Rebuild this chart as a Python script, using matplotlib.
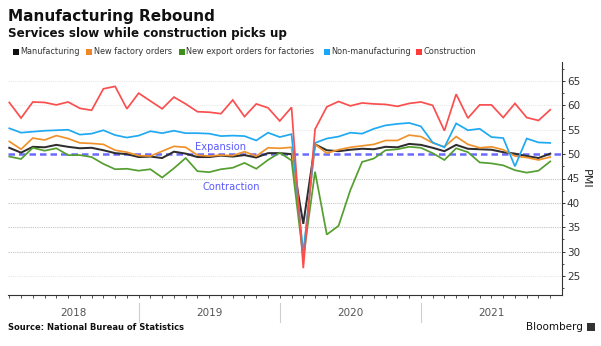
import matplotlib
matplotlib.use("Agg")
import matplotlib.pyplot as plt
import matplotlib.transforms as mtransforms
from matplotlib.patches import Rectangle
from matplotlib.lines import Line2D
import numpy as np

# Monthly PMI readings, Jan 2018 - Nov 2021
years = ["2018", "2019", "2020", "2021"]

manufacturing = [51.3, 50.3, 51.5, 51.4, 51.9, 51.5, 51.2, 51.3, 50.8, 50.2, 50.0, 49.4,
                 49.5, 49.2, 50.5, 50.1, 49.4, 49.4, 49.7, 49.5, 49.8, 49.3, 50.2, 50.2,
                 50.0, 35.7, 52.0, 50.8, 50.6, 50.9, 51.1, 51.0, 51.5, 51.4, 52.1, 51.9,
                 51.3, 50.6, 51.9, 51.1, 51.0, 50.9, 50.4, 50.1, 49.6, 49.2, 50.1]

new_orders = [52.6, 51.0, 53.3, 52.9, 53.8, 53.2, 52.3, 52.2, 52.0, 50.8, 50.4, 49.7,
              49.6, 50.6, 51.6, 51.4, 49.8, 49.6, 49.8, 49.7, 50.5, 49.6, 51.3, 51.2,
              51.4, 29.3, 52.0, 50.2, 50.9, 51.4, 51.7, 52.0, 52.8, 52.8, 53.9, 53.6,
              52.3, 51.5, 53.6, 52.0, 51.3, 51.5, 50.9, 49.6, 49.3, 48.8, 49.4]

export_orders = [49.5, 49.0, 51.3, 50.7, 51.2, 49.8, 49.8, 49.4, 48.0, 46.9, 47.0, 46.6,
                 46.9, 45.2, 47.1, 49.2, 46.5, 46.3, 46.9, 47.2, 48.2, 47.0, 48.8, 50.3,
                 48.7, 28.7, 46.4, 33.5, 35.3, 42.6, 48.4, 49.1, 50.8, 51.0, 51.5, 51.3,
                 50.2, 48.8, 51.2, 50.4, 48.3, 48.1, 47.7, 46.7, 46.2, 46.6, 48.5]

non_manufacturing = [55.3, 54.4, 54.6, 54.8, 54.9, 55.0, 54.0, 54.2, 54.9, 53.9, 53.4, 53.8,
                     54.7, 54.3, 54.8, 54.3, 54.3, 54.2, 53.7, 53.8, 53.7, 52.8, 54.4, 53.5,
                     54.1, 29.6, 52.3, 53.2, 53.6, 54.4, 54.2, 55.2, 55.9, 56.2, 56.4, 55.7,
                     52.4, 51.4, 56.3, 54.9, 55.2, 53.5, 53.3, 47.5, 53.2, 52.4, 52.3]

construction = [60.6, 57.4, 60.7, 60.6, 60.1, 60.7, 59.4, 59.0, 63.4, 63.9, 59.3, 62.5,
                60.9, 59.3, 61.7, 60.3, 58.7, 58.6, 58.3, 61.1, 57.7, 60.3, 59.5, 56.8,
                59.6, 26.6, 55.1, 59.7, 60.8, 59.9, 60.5, 60.3, 60.2, 59.8, 60.4, 60.7,
                60.0, 54.8, 62.3, 57.4, 60.1, 60.1, 57.5, 60.4, 57.5, 56.9, 59.1]

series_names = ["Manufacturing", "New factory orders", "New export orders for factories",
                "Non-manufacturing", "Construction"]
line_colors = ["#2e2e2e", "#f0922b", "#559e30", "#1fa9f2", "#fa4f4f"]
swatch_colors = ["#111111", "#f0862a", "#3f8f1c", "#19a7f7", "#ff3a3a"]

x = np.arange(len(manufacturing))

W, H = 601, 346
fig = plt.figure(figsize=(W / 100, H / 100), dpi=100)
fig.patch.set_facecolor("white")

ax_l, ax_r, ax_t, ax_b = 8, 562, 62, 295
ax = fig.add_axes([ax_l / W, 1 - ax_b / H, (ax_r - ax_l) / W, (ax_b - ax_t) / H])
ax.set_xlim(-0.11, 47.0)
ax.set_ylim(21.1, 68.9)

# gridlines
for v in [25, 30, 35, 40, 45, 55, 60, 65]:
    c = "#c4c4c4" if 30 <= v <= 45 else "#e8e8e8"
    ax.axhline(v, color=c, lw=0.8, ls=(0, (1, 1)), zorder=1)

# 50 threshold
ax.axhline(50, color="#6a6aff", lw=1.8, ls=(0, (2.6, 1.6)), zorder=2)
ax.text(18.0, 51.5, "Expansion", color="#5a5aff", fontsize=7.1, ha="center", va="center", zorder=6)
ax.text(18.9, 43.3, "Contraction", color="#5a5aff", fontsize=7.1, ha="center", va="center", zorder=6)

# series
draw = [(export_orders, 2), (new_orders, 1), (manufacturing, 0),
        (non_manufacturing, 3), (construction, 4)]
for vals, i in draw:
    ax.plot(x, vals, color=line_colors[i], lw=1.25 if i else 1.45, zorder=3 + i * 0.1,
            solid_joinstyle="miter")

# axes styling
for s in ["top", "left"]:
    ax.spines[s].set_visible(False)
for s in ["bottom", "right"]:
    ax.spines[s].set_color("#333333")
    ax.spines[s].set_linewidth(0.8)

ax.yaxis.tick_right()
ax.yaxis.set_label_position("right")
ax.set_yticks([25, 30, 35, 40, 45, 50, 55, 60, 65])
ax.set_yticks(np.arange(22.5, 68.9, 5), minor=True)
ax.tick_params(axis="y", which="major", direction="out", length=2.5, width=0.7,
               color="#333333", labelsize=7.5, labelcolor="#333333", pad=1)
ax.tick_params(axis="y", which="minor", direction="out", length=1.5, width=0.6, color="#333333")
ax.set_ylabel("PMI", rotation=270, fontsize=8, color="#222222", labelpad=8)

ax.set_xticks([])
ax.set_xticks(x, minor=True)
ax.tick_params(axis="x", which="minor", direction="out", length=2.2, width=0.6, color="#333333")
ax.tick_params(axis="x", which="major", length=0, labelbottom=False)

# year labels and separators under the axis
trans = mtransforms.blended_transform_factory(ax.transData, fig.transFigure)
seps = [11, 23, 35]
bounds = [-0.11] + seps + [47.0]
for k, yr in enumerate(years):
    xc = (bounds[k] + bounds[k + 1]) / 2
    ax.text(xc, 1 - 313 / H, yr, transform=trans, ha="center", va="center",
            fontsize=7.5, color="#555555")
for sx in seps:
    ax.add_line(Line2D([sx, sx], [1 - 303 / H, 1 - 322 / H], transform=trans,
                       color="#cfcfcf", lw=0.8, clip_on=False))

# titles
fig.text(8 / W, 1 - 16 / H, "Manufacturing Rebound", fontsize=11, fontweight="bold",
         color="#111111", ha="left", va="center")
fig.text(8 / W, 1 - 33 / H, "Services slow while construction picks up", fontsize=8.6,
         fontweight="bold", color="#111111", ha="left", va="center")

# legend row
sw_x = [12.5, 86, 179, 324, 415.5]
for sx, name, c in zip(sw_x, series_names, swatch_colors):
    fig.patches.append(Rectangle((sx / W, 1 - 55 / H), 6 / W, 6 / H, transform=fig.transFigure,
                                 facecolor=c, edgecolor="none"))
    fig.text((sx + 7.5) / W, 1 - 52 / H, name, fontsize=5.85, color="#333333",
             ha="left", va="center")

# footer
fig.text(8 / W, 1 - 327 / H, "Source: National Bureau of Statistics", fontsize=6,
         fontweight="bold", color="#111111", ha="left", va="center")
fig.text(583 / W, 1 - 327 / H, "Bloomberg", fontsize=7.5, color="#111111",
         ha="right", va="center")
fig.patches.append(Rectangle((587 / W, 1 - 331 / H), 8 / W, 8 / H, transform=fig.transFigure,
                             facecolor="#333333", edgecolor="none"))

fig.savefig("out.png", dpi=100, facecolor="white")
